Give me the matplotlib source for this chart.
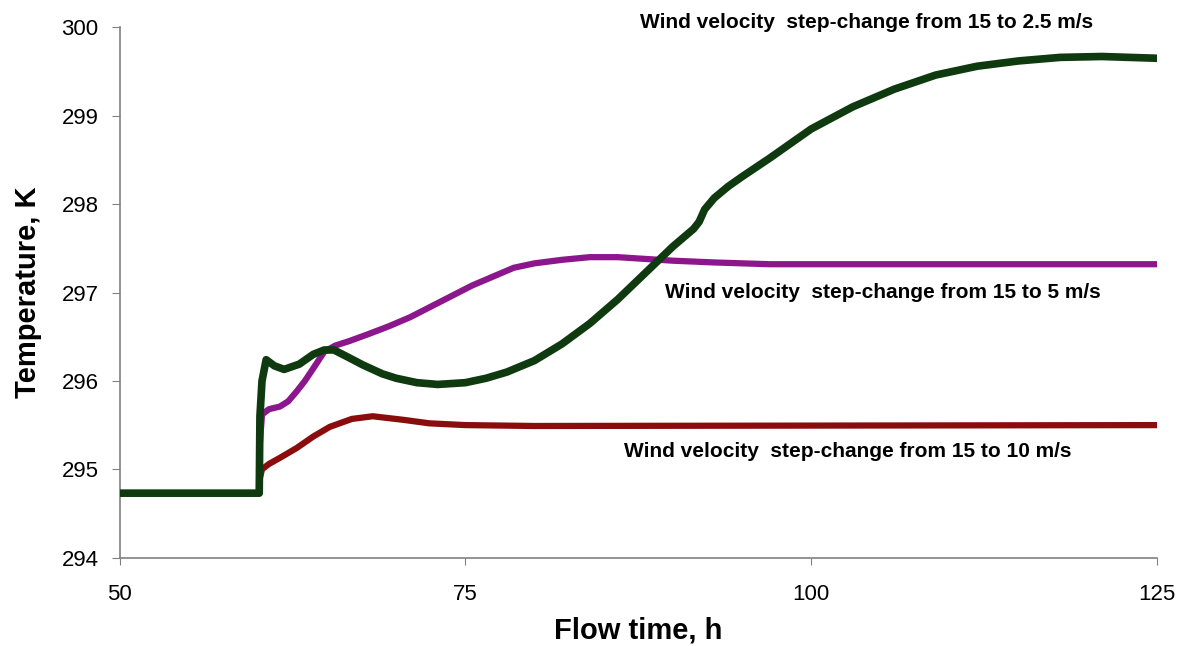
import matplotlib
matplotlib.use('Agg')
import matplotlib.pyplot as plt

plt.rcParams['font.family'] = ['Liberation Sans', 'DejaVu Sans']

# wind 15 -> 2.5 m/s
t_25 = [50, 60.1, 60.15, 60.3, 60.6, 61.2, 61.9, 63.0, 64.0, 64.8, 65.5, 66.5, 67.6, 69, 70,
        71.5, 73, 75, 76.5, 78, 80, 82, 84, 86, 88, 90, 91.5, 91.9, 92.3, 93, 94, 95, 97,
        100, 103, 106, 109, 112, 115, 118, 121, 125]
T_25 = [294.73, 294.73, 295.6, 296.0, 296.24, 296.17, 296.13, 296.19, 296.3, 296.35, 296.35,
        296.27, 296.18, 296.08, 296.03, 295.98, 295.96, 295.98, 296.03, 296.1, 296.23, 296.42,
        296.65, 296.92, 297.22, 297.52, 297.72, 297.8, 297.94, 298.07, 298.2, 298.31, 298.52,
        298.85, 299.1, 299.3, 299.46, 299.56, 299.62, 299.66, 299.67, 299.65]

# wind 15 -> 5 m/s
t_5 = [60.1, 60.15, 60.3, 60.8, 61.6, 62.2, 62.8, 63.4, 64.0, 64.8, 65.6, 66.6, 68, 69.5, 71,
       72.5, 74, 75.5, 77, 78.5, 80, 82, 84, 86, 88, 90, 93, 97, 105, 125]
T_5 = [294.73, 295.3, 295.62, 295.68, 295.71, 295.77, 295.88, 296.0, 296.14, 296.33, 296.4,
       296.45, 296.53, 296.62, 296.72, 296.84, 296.96, 297.08, 297.18, 297.28, 297.33, 297.37,
       297.4, 297.4, 297.38, 297.36, 297.34, 297.32, 297.32, 297.32]

# wind 15 -> 10 m/s
t_10 = [60.1, 60.15, 60.3, 60.8, 61.6, 62.8, 64.0, 65.2, 66.8, 68.3, 70.5, 72.4, 75, 80, 125]
T_10 = [294.73, 294.9, 295.0, 295.06, 295.13, 295.24, 295.37, 295.48, 295.57, 295.6, 295.56,
        295.52, 295.5, 295.49, 295.5]

labels = ['Wind velocity  step-change from 15 to 2.5 m/s',
          'Wind velocity  step-change from 15 to 5 m/s',
          'Wind velocity  step-change from 15 to 10 m/s']

fig = plt.figure(figsize=(11.81, 6.46), dpi=100)
ax = fig.add_axes([0.1012, 0.1367, 0.8785, 0.821])

ax.plot(t_10, T_10, color='#8a0c0c', lw=4.5, solid_capstyle='round', zorder=2)
ax.plot(t_5, T_5, color='#8c178c', lw=4.5, solid_capstyle='round', zorder=3)
ax.plot(t_25, T_25, color='#0f3a0f', lw=5.5, solid_capstyle='round', zorder=4)

ax.set_xlim(50, 125)
ax.set_ylim(294, 300)
ax.set_xticks([50, 75, 100, 125])
ax.set_yticks(range(294, 301))

for s in ['top', 'right']:
    ax.spines[s].set_visible(False)
for s in ['left', 'bottom']:
    ax.spines[s].set_color('#808080')
    ax.spines[s].set_linewidth(1.2)
ax.tick_params(axis='y', direction='out', length=6, color='#808080', labelsize=16, pad=9)
ax.tick_params(axis='x', direction='out', length=5, color='#808080', labelsize=16, pad=14)

ax.set_xlabel('Flow time, h', fontsize=21, fontweight='bold', labelpad=8)
ax.set_ylabel('Temperature, K', fontsize=21, fontweight='bold', labelpad=14)

kw = dict(fontsize=15, fontweight='bold', va='center', ha='left', clip_on=False)
ax.text(87.6, 300.06, labels[0], **kw)
ax.text(89.4, 297.0, labels[1], **kw)
ax.text(86.5, 295.2, labels[2], **kw)

fig.savefig('out.png', dpi=100)
